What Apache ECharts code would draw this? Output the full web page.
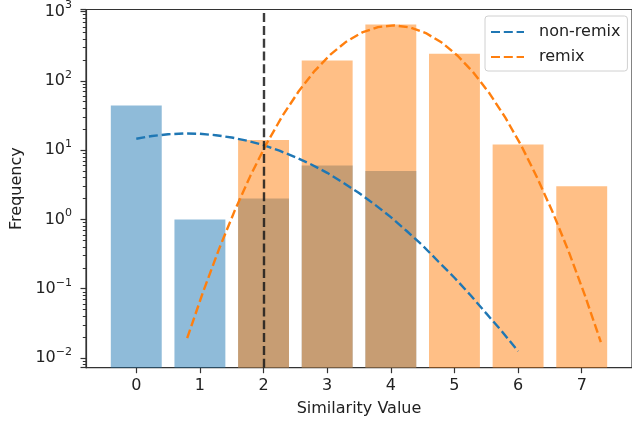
<!DOCTYPE html>
<html>
<head>
<meta charset="utf-8">
<script src="https://cdn.jsdelivr.net/npm/echarts@6/dist/echarts.min.js"></script>
<style>
html, body { margin: 0; padding: 0; background: #fff; }
#chart { width: 632px; height: 423px; }
</style>
</head>
<body>
<div id="chart"></div>
<script>
// bar heights (frequency per similarity value)
var nonRemixX = [0, 1, 2, 3, 4];
var nonRemixCounts = [44, 1, 2, 6, 5];
var remixX = [2, 3, 4, 5, 6, 7];
var remixCounts = [14, 197, 650, 245, 12, 3];

// dashed fitted curves
var nonRemixFitX = [0, 0.25, 0.5, 0.75, 1, 1.25, 1.5, 1.75, 2, 2.25, 2.5, 2.75, 3,
  3.25, 3.5, 3.75, 4, 4.25, 4.5, 4.75, 5, 5.25, 5.5, 5.75, 6];
var nonRemixFitY = [14.6, 16.0, 16.9, 17.4, 17.2, 16.4, 15.2, 13.6, 11.8, 9.8, 7.9,
  6.2, 4.7, 3.4, 2.4, 1.63, 1.08, 0.68, 0.42, 0.245, 0.144, 0.081, 0.044, 0.024, 0.0125];
var remixFitX = [0.8, 1.05, 1.3, 1.55, 1.8, 2.05, 2.3, 2.55, 2.8, 3.05, 3.3, 3.55, 3.8,
  4.05, 4.3, 4.55, 4.8, 5.05, 5.3, 5.55, 5.8, 6.05, 6.3, 6.55, 6.8, 7.05, 7.3];
var remixFitY = [0.0193, 0.090, 0.373, 1.36, 4.39, 12.5, 31.5, 70, 138, 239, 367, 498,
  596, 631, 590, 488, 356, 230, 131, 66, 29.4, 11.6, 4.0, 1.23, 0.334, 0.080, 0.017];

var thresholdX = 2;

var xTicks = [0, 1, 2, 3, 4, 5, 6, 7];

var BAR_W = 0.8;
var Y_MIN = 0.007246, Y_MAX = 1069;
var FONT = 'DejaVu Sans';
var DASH = [9, 3.8];
var AXIS_COLOR = '#333';

function pairs(xs, ys) {
  return xs.map(function (x, i) { return [x, ys[i]]; });
}

function barItem(color) {
  return function (params, api) {
    var x = api.value(0), y = api.value(1);
    var a = api.coord([x - BAR_W / 2, y]);
    var b = api.coord([x + BAR_W / 2, y]);
    var bottom = params.coordSys.y + params.coordSys.height;
    return {
      type: 'rect',
      shape: { x: a[0], y: a[1], width: b[0] - a[0], height: bottom - a[1] },
      style: { fill: color }
    };
  };
}

function supLabel(v) {
  var e = Math.round(Math.log10(v));
  var s = e < 0 ? '\u2212' + (-e) : String(e);
  return '{b|10}{s|' + s + '}';
}

var chart = echarts.init(document.getElementById('chart'));
var option = {
  animation: false,
  backgroundColor: '#fff',
  textStyle: { fontFamily: FONT },
  grid: {
    left: 86, top: 9, width: 551.6, height: 358.7,
    show: true, borderColor: AXIS_COLOR, borderWidth: 1.2
  },
  legend: {
    data: ['non-remix', 'remix'],
    orient: 'vertical',
    left: 485, top: 16,
    padding: [8, 7, 6, 5],
    itemWidth: 33, itemHeight: 16, itemGap: 9,
    itemStyle: { opacity: 0 },
    backgroundColor: 'rgba(255,255,255,0.8)',
    borderColor: '#d0d0d0', borderWidth: 1, borderRadius: 3,
    textStyle: { fontFamily: FONT, fontSize: 16, color: '#222', padding: [0, 0, 0, 10] }
  },
  xAxis: {
    type: 'value',
    min: -0.79, max: 7.79,
    name: 'Similarity Value',
    nameLocation: 'middle', nameGap: 33,
    nameTextStyle: { fontFamily: FONT, fontSize: 16, color: '#222' },
    axisLine: { show: true, onZero: false, lineStyle: { color: AXIS_COLOR, width: 1.2 } },
    splitLine: { show: false },
    axisTick: { show: true, length: 5.5, customValues: xTicks, lineStyle: { color: AXIS_COLOR, width: 1.2 } },
    axisLabel: { customValues: xTicks, margin: 10, fontFamily: FONT, fontSize: 16, color: '#222' }
  },
  yAxis: {
    type: 'log',
    logBase: 10,
    min: Y_MIN, max: Y_MAX,
    position: 'left',
    name: 'Frequency',
    nameLocation: 'middle', nameGap: 60, nameRotate: 90,
    nameTextStyle: { fontFamily: FONT, fontSize: 16, color: '#222' },
    axisLine: { show: true, onZero: false, lineStyle: { color: AXIS_COLOR, width: 1.2 } },
    splitLine: { show: false },
    axisTick: { show: true, length: 5.5, lineStyle: { color: AXIS_COLOR, width: 1.2 } },
    minorTick: { show: true, splitNumber: 9, length: 3.2, lineStyle: { color: AXIS_COLOR, width: 1 } },
    axisLabel: {
      showMinLabel: false, showMaxLabel: false,
      margin: 14,
      formatter: supLabel,
      rich: {
        b: { fontFamily: FONT, fontSize: 16, color: '#222' },
        s: { fontFamily: FONT, fontSize: 11, color: '#222', padding: [0, 0, 12, 0] }
      }
    }
  },
  series: [{
    name: 'non-remix bars',
    type: 'custom',
    renderItem: barItem('rgba(31,119,180,0.5)'),
    encode: { x: 0, y: 1 },
    data: pairs(nonRemixX, nonRemixCounts)
  }, {
    name: 'remix bars',
    type: 'custom',
    renderItem: barItem('rgba(255,127,14,0.5)'),
    encode: { x: 0, y: 1 },
    data: pairs(remixX, remixCounts)
  }, {
    name: 'non-remix',
    type: 'line',
    symbol: 'none',
    color: '#1f77b4',
    lineStyle: { color: '#1f77b4', width: 2.4, type: DASH },
    data: pairs(nonRemixFitX, nonRemixFitY),
    markLine: {
      silent: true,
      symbol: 'none',
      label: { show: false },
      lineStyle: { color: '#1a1a1a', width: 2.4, type: DASH, opacity: 0.85 },
      data: [{ xAxis: thresholdX }]
    }
  }, {
    name: 'remix',
    type: 'line',
    symbol: 'none',
    color: '#ff7f0e',
    lineStyle: { color: '#ff7f0e', width: 2.4, type: DASH },
    data: pairs(remixFitX, remixFitY)
  }]
};
chart.setOption(option);
</script>
</body>
</html>
